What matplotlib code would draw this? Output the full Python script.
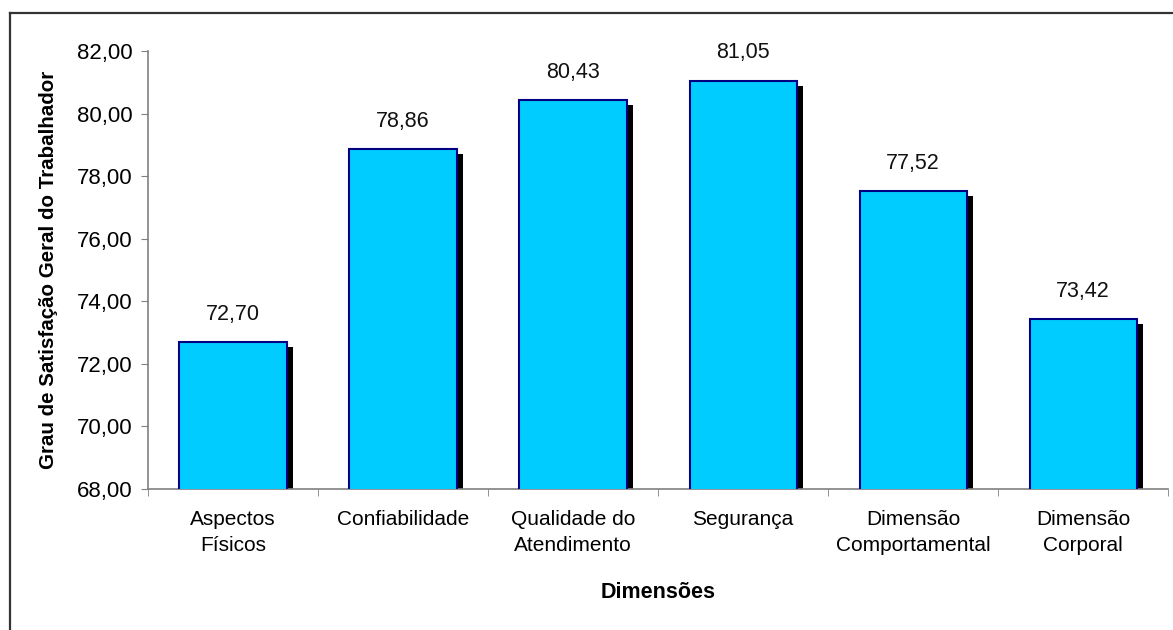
import matplotlib
matplotlib.use("Agg")
import matplotlib.pyplot as plt
import matplotlib.transforms as mtransforms
from matplotlib.lines import Line2D
import numpy as np

# data
categorias = ["Aspectos\nFísicos", "Confiabilidade", "Qualidade do\nAtendimento",
              "Segurança", "Dimensão\nComportamental", "Dimensão\nCorporal"]
valores = [72.70, 78.86, 80.43, 81.05, 77.52, 73.42]
y_ticks = [68, 70, 72, 74, 76, 78, 80, 82]

plt.rcParams['font.family'] = ['Liberation Sans', 'DejaVu Sans']

fig = plt.figure(figsize=(11.73, 6.3), dpi=100)
ax = fig.add_axes([0.1262, 0.2238, 0.8696, 0.6952])

x = np.arange(len(categorias))
largura = 0.63

# sombra deslocada (direita e para baixo)
sombra = mtransforms.offset_copy(ax.transData, fig=fig, x=4.5, y=-3.5, units='points')
ax.bar(x, valores, width=largura, bottom=0, color='black', edgecolor='none',
       transform=sombra, zorder=2)
ax.bar(x, valores, width=largura, color='#00CCFF', edgecolor='#000080',
       linewidth=1.5, zorder=3)

for xi, v in zip(x, valores):
    ax.annotate(f"{v:.2f}".replace('.', ','), (xi, v), xytext=(0, 20),
                textcoords='offset points', ha='center', va='center',
                fontsize=15.5, color='#111111')

ax.set_ylim(68, 82)
ax.set_xlim(-0.5, len(categorias) - 0.5)
ax.set_yticks(y_ticks)
ax.set_yticklabels([f"{t:.2f}".replace('.', ',') for t in y_ticks], fontsize=16)
ax.set_xticks(x)
ax.set_xticklabels(categorias, fontsize=15, linespacing=1.5)
ax.set_xticks(np.arange(len(categorias) + 1) - 0.5, minor=True)
ax.tick_params(axis='x', which='major', length=0, pad=15)
ax.tick_params(axis='x', which='minor', length=5, color='#808080', direction='out')
ax.tick_params(axis='y', length=5, color='#808080', direction='out', pad=6)

for s in ['top', 'right']:
    ax.spines[s].set_visible(False)
for s in ['left', 'bottom']:
    ax.spines[s].set_color('#808080')
    ax.spines[s].set_linewidth(1.2)

ax.set_ylabel("Grau de Satisfação Geral do Trabalhador", fontsize=14.8,
              fontweight='bold', labelpad=14)
fig.text(0.1262 + 0.8696 / 2, 1 - 592 / 630, "Dimensões", fontsize=15.5,
         fontweight='bold', ha='center', va='center')

# moldura do gráfico
fig.add_artist(Line2D([10 / 1173, 10 / 1173], [0, 1 - 13 / 630],
                      transform=fig.transFigure, color='#333333', linewidth=1.6))
fig.add_artist(Line2D([10 / 1173, 1], [1 - 13 / 630, 1 - 13 / 630],
                      transform=fig.transFigure, color='#333333', linewidth=1.6))

fig.savefig("out.png", dpi=100)
